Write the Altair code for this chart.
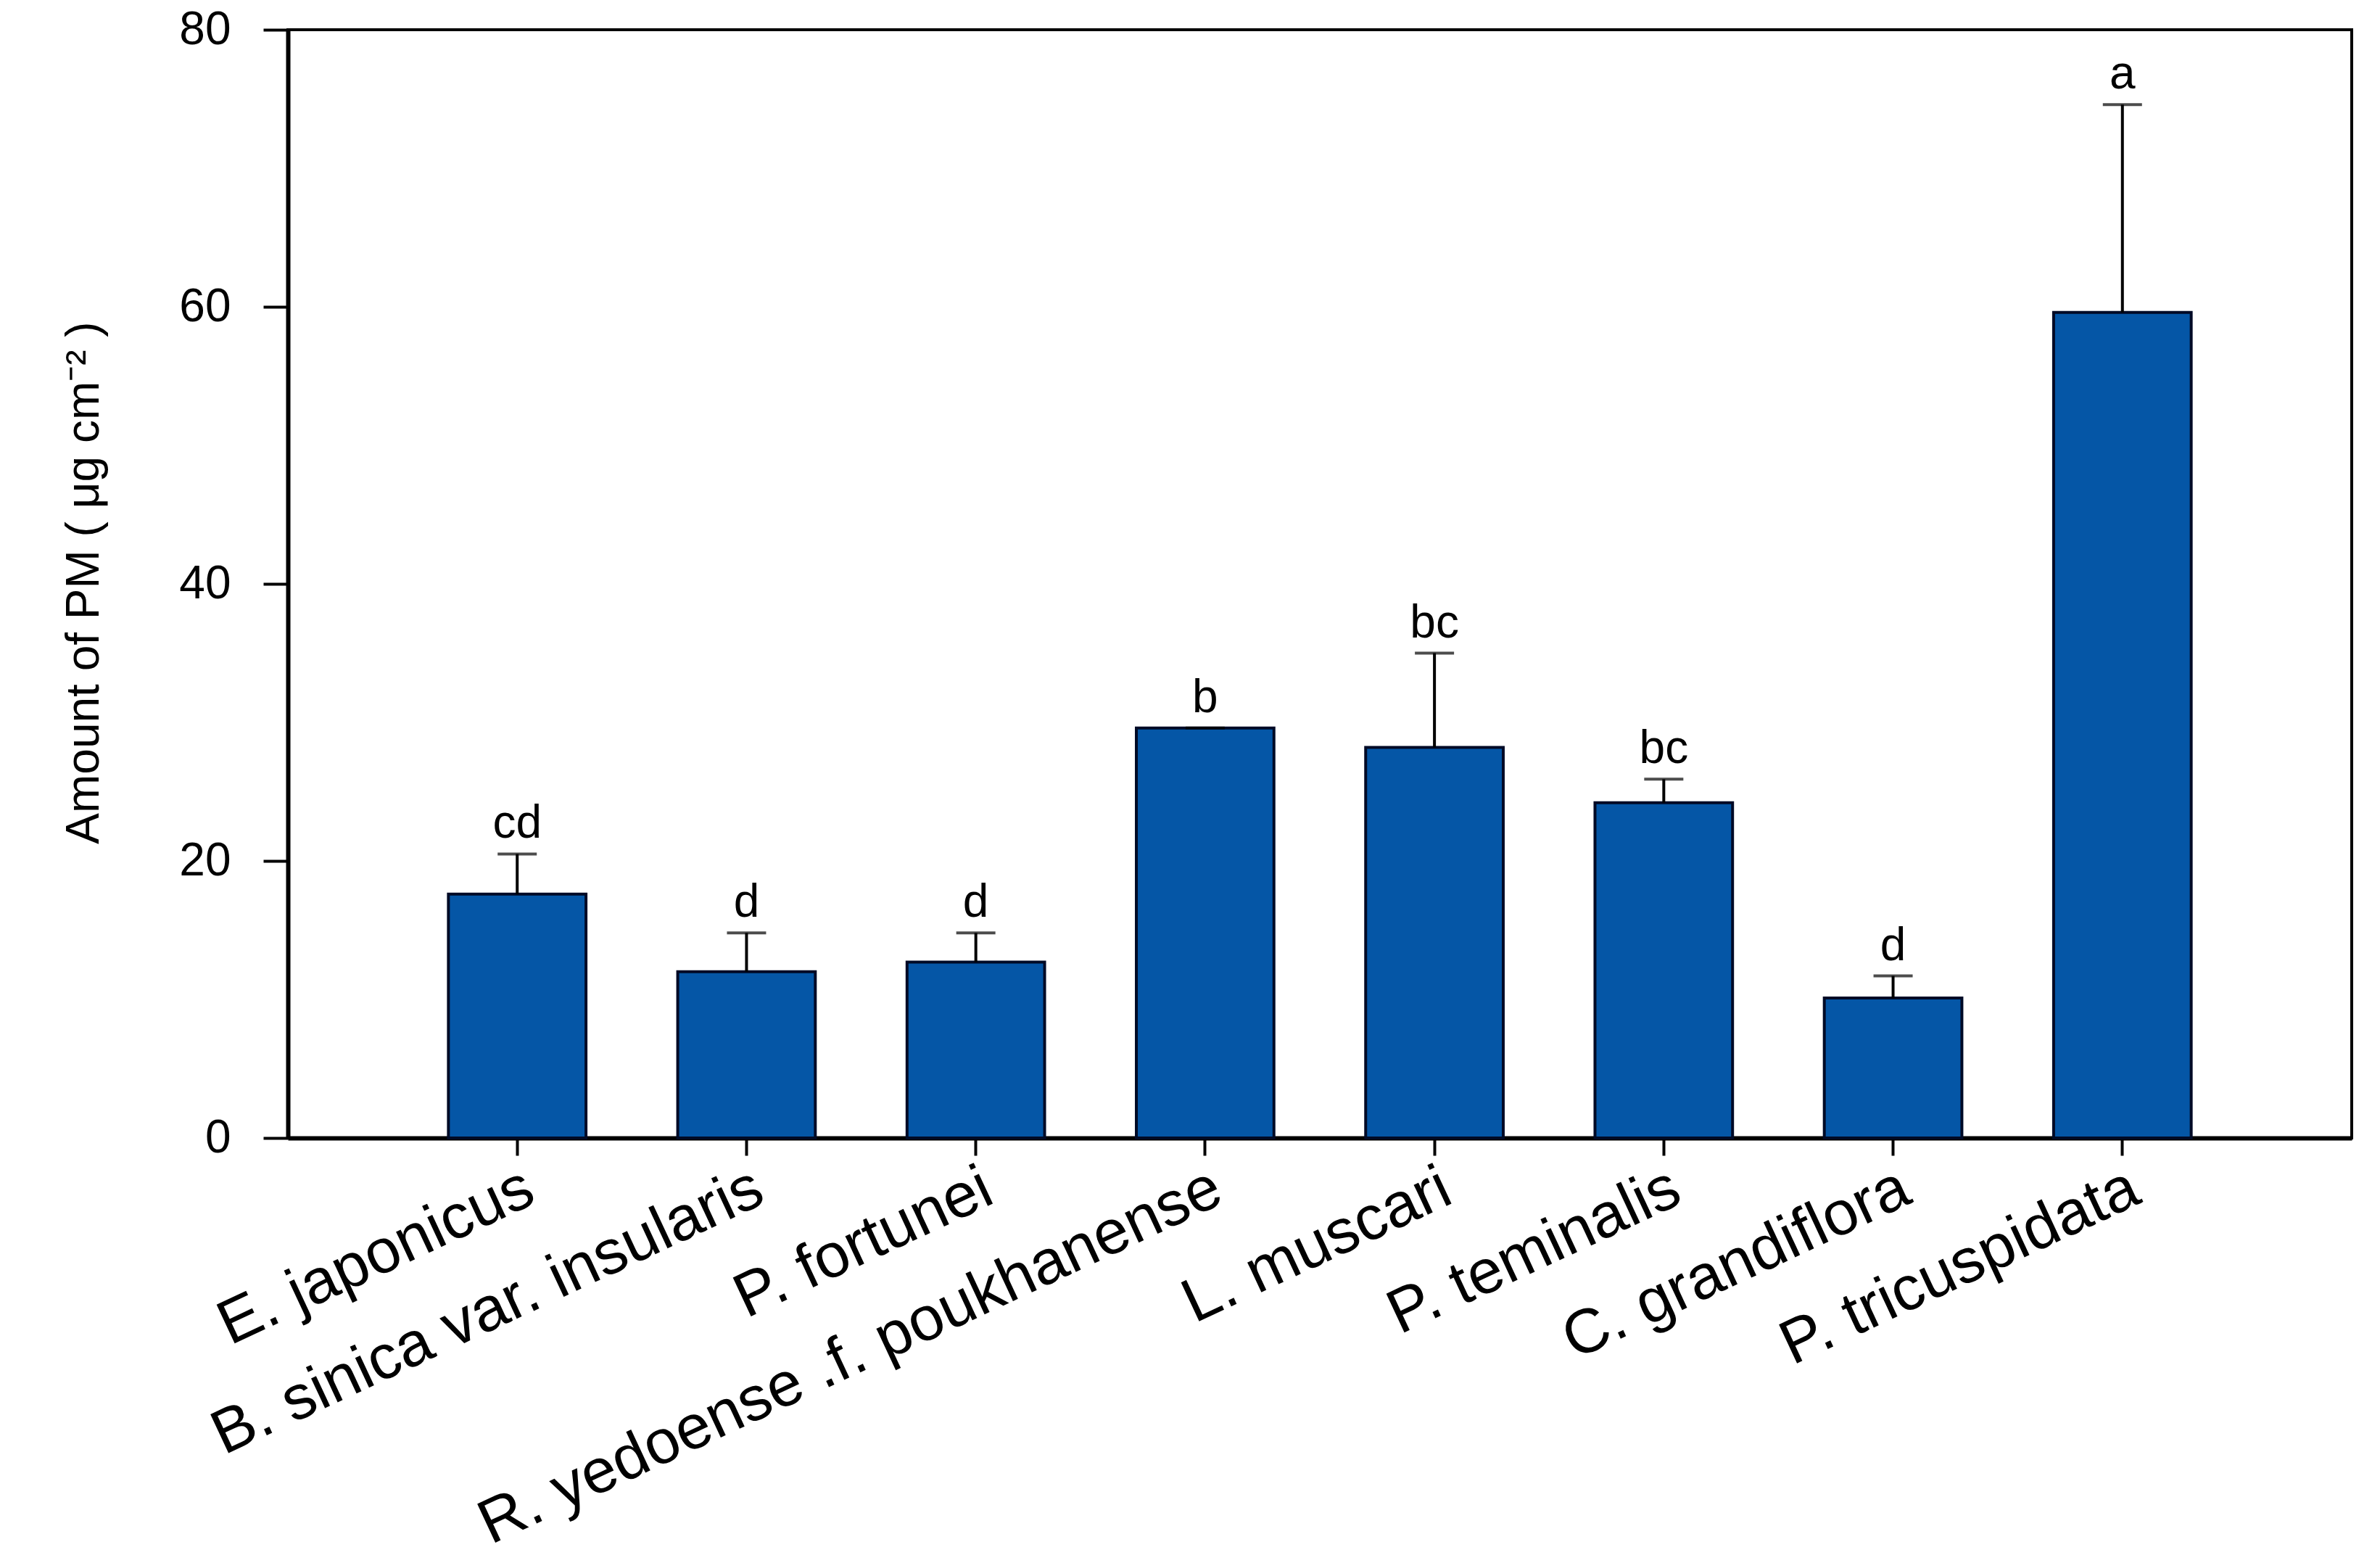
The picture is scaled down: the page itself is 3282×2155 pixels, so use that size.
import altair as alt
import pandas as pd

species = [
    "E. japonicus",
    "B. sinica var. insularis",
    "P. fortunei",
    "R. yedoense .f. poukhanense",
    "L. muscari",
    "P. teminalis",
    "C. grandiflora",
    "P. tricuspidata",
]
means = [17.6, 12.0, 12.7, 29.6, 28.2, 24.2, 10.1, 59.6]
errors = [2.9, 2.8, 2.1, 0.0, 6.8, 1.7, 1.6, 15.0]
letters = ["cd", "d", "d", "b", "bc", "bc", "d", "a"]
y_ticks = [0, 20, 40, 60, 80]

df = pd.DataFrame({"species": species, "mean": means, "err": errors, "letter": letters})
df["upper"] = df["mean"] + df["err"]

FONT = "Liberation Sans"

x_enc = alt.X(
    "species:N",
    sort=species,
    title=None,
    scale=alt.Scale(paddingInner=0.4, paddingOuter=0.7),
    axis=alt.Axis(
        labelAngle=335,
        labelAlign="right",
        labelBaseline="top",
        labelPadding=2,
        labelFontSize=86,
        tickSize=24,
        tickWidth=4,
        domainWidth=6,
        labelLimit=3000,
        labelOverlap=False,
        labelFlush=False,
    ),
)

y_scale = alt.Scale(domain=[0, 80], nice=False)

base = alt.Chart(df)

bars = base.mark_bar(color="#0556A6", stroke="#000a26", strokeWidth=4).encode(
    x=x_enc,
    y=alt.Y(
        "mean:Q",
        scale=y_scale,
        axis=alt.Axis(
            values=y_ticks,
            title="Amount of PM ( μg cm⁻² )",
            titleFontSize=64,
            titleFontWeight="normal",
            titleX=-262,
            titleY=762,
            titleAngle=270,
            titleBaseline="alphabetic",
            labelFontSize=64,
            labelPadding=45,
            tickSize=34,
            tickWidth=4,
            domainWidth=6,
            grid=False,
        ),
    ),
)

err_rule = base.mark_rule(color="black", strokeWidth=4).encode(
    x=x_enc,
    y=alt.Y("mean:Q", scale=y_scale),
    y2="upper:Q",
)

caps = base.mark_tick(color="black", orient="horizontal", size=54, thickness=4).encode(
    x=x_enc,
    y=alt.Y("upper:Q", scale=y_scale),
)

labels = base.mark_text(
    dy=-22, baseline="alphabetic", align="center", fontSize=64, font=FONT, color="black"
).encode(
    x=x_enc,
    y=alt.Y("upper:Q", scale=y_scale),
    text="letter:N",
)

chart = (
    alt.layer(bars, err_rule, caps, labels)
    .properties(
        width=2846,
        height=1528,
        background="white",
        autosize=alt.AutoSizeParams(type="none"),
        padding={"left": 389, "top": 33, "right": 31, "bottom": 578},
    )
    .configure_view(stroke="black", strokeWidth=4)
    .configure_axis(
        labelFont=FONT,
        titleFont=FONT,
        labelColor="black",
        titleColor="black",
        tickColor="black",
        domainColor="black",
    )
)

chart.save("out.html", embed_options={"renderer": "svg", "actions": False})
